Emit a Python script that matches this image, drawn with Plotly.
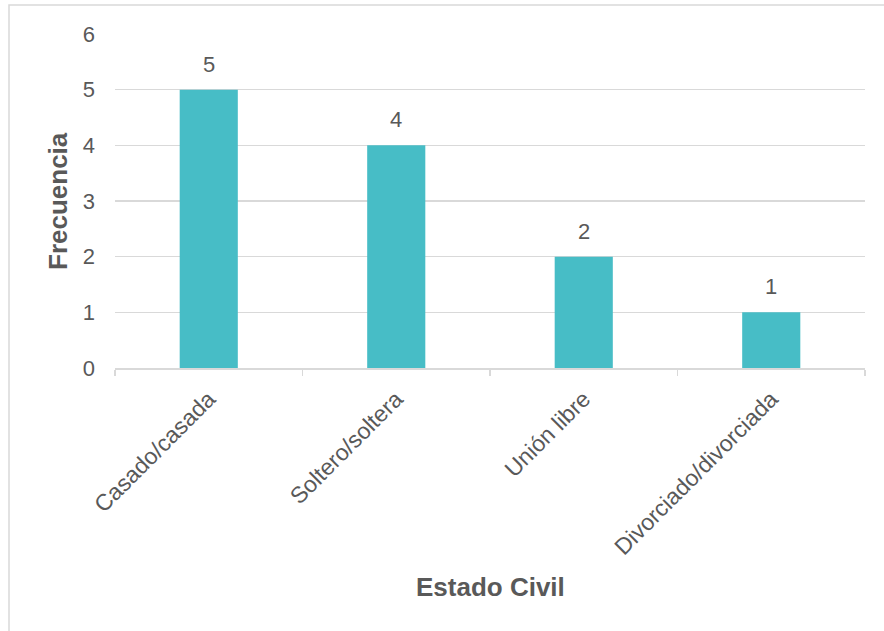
import plotly.graph_objects as go

categories = ["Casado/casada", "Soltero/soltera", "Unión libre", "Divorciado/divorciada"]
frecuencia = [5, 4, 2, 1]
y_ticks = [0, 1, 2, 3, 4, 5, 6]

W, H = 884, 631
L, R, T, B = 115, 19, 34, 263
pw, ph = W - L - R, H - T - B

def px_to_paper_x(px):
    return (px - L) / pw

def px_to_paper_y(py):
    return (H - B - py) / ph

text_color = "#595959"
grid_color = "#d9d9d9"
font_family = "Arial, Liberation Sans, sans-serif"

fig = go.Figure(
    go.Bar(
        x=categories,
        y=frecuencia,
        width=0.31,
        marker=dict(color="#47BDC6", line=dict(width=0)),
        cliponaxis=False,
        hoverinfo="skip",
    )
)

label_annotations = [
    dict(
        x=c, y=v, xref="x", yref="y",
        text=str(v), showarrow=False,
        xanchor="center", yanchor="bottom", yshift=11,
        font=dict(size=22, color=text_color),
    )
    for c, v in zip(categories, frecuencia)
]

fig.update_layout(
    width=W,
    height=H,
    margin=dict(l=L, r=R, t=T, b=B, autoexpand=False),
    paper_bgcolor="white",
    plot_bgcolor="white",
    showlegend=False,
    font=dict(family=font_family, color=text_color),
    xaxis=dict(
        showgrid=False,
        showline=True,
        linecolor=grid_color,
        linewidth=1.5,
        ticks="outside",
        tickson="boundaries",
        ticklen=6,
        tickcolor=grid_color,
        tickwidth=1.5,
        tickangle=-45,
        tickfont=dict(size=23, color=text_color),
        ticklabelstandoff=7,
        automargin=False,
    ),
    yaxis=dict(
        range=[0, 6],
        tickvals=y_ticks,
        showgrid=True,
        gridcolor=grid_color,
        gridwidth=1.5,
        zeroline=False,
        showline=False,
        ticks="",
        tickfont=dict(size=22, color=text_color),
        ticklabelstandoff=19,
        automargin=False,
    ),
    annotations=label_annotations + [
        dict(
            text="<b>Frecuencia</b>",
            x=px_to_paper_x(58), y=0.5, xref="paper", yref="paper",
            textangle=-90, showarrow=False,
            font=dict(size=26, color=text_color),
            xanchor="center", yanchor="middle",
        ),
        dict(
            text="<b>Estado Civil</b>",
            x=0.5, y=px_to_paper_y(587), xref="paper", yref="paper",
            showarrow=False,
            font=dict(size=26, color=text_color),
            xanchor="center", yanchor="middle",
        ),
    ],
    shapes=[
        dict(
            type="rect", xref="paper", yref="paper",
            x0=px_to_paper_x(9), x1=px_to_paper_x(W + 20),
            y0=px_to_paper_y(H + 20), y1=px_to_paper_y(5),
            line=dict(color=grid_color, width=1.5),
            fillcolor="rgba(0,0,0,0)",
            layer="below",
        )
    ],
)

fig.write_html(
    "out.html",
    config={"displayModeBar": False, "staticPlot": True},
    post_script="document.body.style.margin='0';document.body.style.overflow='hidden';",
)
